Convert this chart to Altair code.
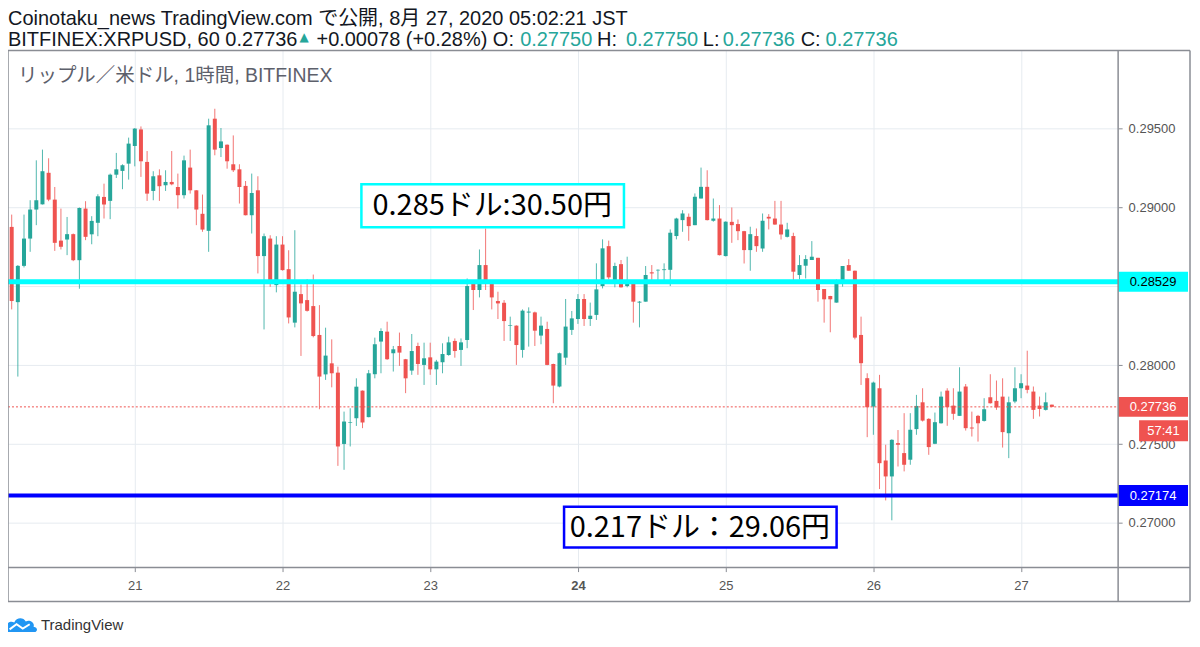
import altair as alt
import pandas as pd

# ---- candle data (BITFINEX:XRPUSD, 1h, from 2020-08-20 04:00 JST) ----
opens = [0.28877,0.28400,0.28630,0.28803,0.28987,0.29020,0.29220,0.29050,0.28790,0.28797,
0.28831,0.28666,0.28993,0.28830,0.28903,0.29067,0.29042,0.29208,0.29232,0.29278,
0.29390,0.29495,0.29289,0.29105,0.29204,0.29141,0.29162,0.29130,0.29078,0.29253,
0.29109,0.28960,0.28852,0.29563,0.29377,0.29398,0.29274,0.29242,0.29137,0.28951,
0.29109,0.28692,0.28803,0.28508,0.28765,0.28609,0.28270,0.28451,0.28413,0.28375,
0.28192,0.27942,0.28012,0.27953,0.27501,0.27634,0.27664,0.27839,0.27671,0.27943,
0.28150,0.28213,0.28076,0.28122,0.28038,0.27966,0.28122,0.28002,0.28050,0.27974,
0.28019,0.28065,0.28154,0.28097,0.28160,0.28515,0.28477,0.28635,0.28515,0.28407,
0.28396,0.28251,0.28251,0.28097,0.28334,0.28335,0.28188,0.28230,0.28008,0.27865,
0.28048,0.28224,0.28293,0.28420,0.28293,0.28319,0.28502,0.28755,0.28519,0.28641,
0.28502,0.28530,0.28397,0.28403,0.28589,0.28601,0.28603,0.28605,0.28819,0.28920,
0.28941,0.28888,0.29057,0.29131,0.28916,0.28930,0.28692,0.28909,0.28895,0.28850,
0.28730,0.28819,0.28740,0.28941,0.28930,0.28892,0.28814,0.28819,0.28572,0.28631,
0.28667,0.28681,0.28483,0.28439,0.28397,0.28536,0.28635,0.28599,0.28192,0.27918,
0.27738,0.27854,0.27396,0.27295,0.27506,0.27443,0.27401,0.27595,0.27765,0.27660,
0.27502,0.27632,0.27839,0.27744,0.27679,0.27865,0.27605,0.27679,0.27647,0.27797,
0.27774,0.27801,0.27569,0.27770,0.27854,0.27871,0.27833,0.27744,0.27717,0.27750]

highs = [0.28955,0.28635,0.28955,0.29046,0.29299,0.29367,0.29312,0.29130,0.28993,0.28940,
0.28835,0.29000,0.29040,0.28945,0.29084,0.29151,0.29215,0.29346,0.29274,0.29443,
0.29504,0.29514,0.29358,0.29230,0.29242,0.29236,0.29358,0.29215,0.29329,0.29367,
0.29110,0.29082,0.29563,0.29626,0.29504,0.29400,0.29457,0.29274,0.29168,0.29215,
0.29198,0.28835,0.28824,0.28818,0.28818,0.28729,0.28856,0.28512,0.28546,0.28575,
0.28381,0.28238,0.28164,0.27991,0.27706,0.27727,0.27917,0.27840,0.27970,0.28175,
0.28234,0.28276,0.28122,0.28207,0.28040,0.28198,0.28143,0.28143,0.28143,0.28034,
0.28139,0.28181,0.28170,0.28170,0.28550,0.28523,0.28734,0.28867,0.28515,0.28466,
0.28413,0.28308,0.28253,0.28354,0.28367,0.28340,0.28308,0.28276,0.28010,0.28080,
0.28420,0.28344,0.28451,0.28451,0.28397,0.28646,0.28798,0.28790,0.28650,0.28667,
0.28688,0.28530,0.28407,0.28629,0.28635,0.28608,0.28646,0.28861,0.28935,0.28983,
0.28962,0.29089,0.29253,0.29236,0.29057,0.29015,0.28912,0.29000,0.28924,0.28852,
0.28878,0.28867,0.28962,0.28958,0.29042,0.29042,0.28903,0.28840,0.28698,0.28698,
0.28787,0.28681,0.28483,0.28440,0.28544,0.28629,0.28673,0.28600,0.28308,0.27949,
0.27896,0.27939,0.27496,0.27531,0.27589,0.27696,0.27696,0.27812,0.27854,0.27664,
0.27700,0.27833,0.27854,0.27854,0.27987,0.27881,0.27706,0.27685,0.27791,0.27943,
0.27903,0.27917,0.27801,0.27987,0.27943,0.28092,0.27865,0.27801,0.27827,0.27750]

lows = [0.28354,0.27928,0.28620,0.28719,0.28888,0.29019,0.29040,0.28725,0.28734,0.28698,
0.28660,0.28485,0.28793,0.28767,0.28818,0.28930,0.28926,0.29187,0.29116,0.29177,
0.29261,0.29194,0.29042,0.29046,0.29042,0.29105,0.29141,0.28993,0.29057,0.29088,
0.28888,0.28846,0.28719,0.29331,0.29320,0.29246,0.29225,0.29025,0.28950,0.28835,
0.28582,0.28227,0.28497,0.28462,0.28600,0.28265,0.28240,0.28059,0.28340,0.28177,
0.27721,0.27907,0.27860,0.27362,0.27337,0.27485,0.27615,0.27601,0.27670,0.27917,
0.27949,0.28034,0.27960,0.27996,0.27823,0.27939,0.27939,0.27875,0.27939,0.27875,
0.27949,0.28060,0.28048,0.27996,0.28108,0.28350,0.28430,0.28477,0.28354,0.28293,
0.28154,0.28154,0.28002,0.28048,0.28118,0.28122,0.28133,0.28000,0.27759,0.27860,
0.28002,0.28192,0.28262,0.28249,0.28249,0.28287,0.28487,0.28544,0.28494,0.28492,
0.28494,0.28270,0.28240,0.28403,0.28530,0.28530,0.28530,0.28502,0.28798,0.28846,
0.28789,0.28888,0.29057,0.28918,0.28910,0.28696,0.28690,0.28776,0.28793,0.28645,
0.28599,0.28719,0.28719,0.28861,0.28890,0.28797,0.28810,0.28540,0.28544,0.28550,
0.28667,0.28403,0.28270,0.28209,0.28397,0.28498,0.28599,0.28164,0.27875,0.27544,
0.27559,0.27215,0.27143,0.27017,0.27358,0.27327,0.27369,0.27559,0.27643,0.27432,
0.27500,0.27630,0.27616,0.27654,0.27679,0.27586,0.27548,0.27516,0.27643,0.27757,
0.27717,0.27478,0.27411,0.27759,0.27791,0.27822,0.27660,0.27675,0.27713,0.27736]

closes = [0.28407,0.28630,0.28803,0.28987,0.29046,0.29230,0.29050,0.28776,0.28751,0.28831,
0.28666,0.28997,0.28814,0.28915,0.29071,0.29019,0.29208,0.29242,0.29268,0.29405,
0.29500,0.29293,0.29088,0.29198,0.29135,0.29162,0.29147,0.29078,0.29299,0.29109,
0.28987,0.28860,0.29521,0.29367,0.29419,0.29293,0.29236,0.29130,0.28951,0.29092,
0.28692,0.28818,0.28523,0.28765,0.28603,0.28303,0.28466,0.28392,0.28345,0.28185,
0.27928,0.28061,0.27949,0.27485,0.27643,0.27638,0.27864,0.27637,0.27949,0.28133,
0.28217,0.28038,0.28101,0.28080,0.27917,0.28090,0.28008,0.28044,0.27974,0.28023,
0.28071,0.28145,0.28090,0.28145,0.28502,0.28477,0.28635,0.28515,0.28430,0.28392,
0.28280,0.28255,0.28128,0.28346,0.28340,0.28219,0.28251,0.28002,0.27871,0.28076,
0.28245,0.28297,0.28420,0.28293,0.28314,0.28481,0.28741,0.28557,0.28629,0.28494,
0.28519,0.28403,0.28403,0.28572,0.28582,0.28605,0.28608,0.28840,0.28930,0.28962,
0.28882,0.29068,0.29131,0.28920,0.28930,0.28698,0.28910,0.28888,0.28850,0.28730,
0.28831,0.28755,0.28916,0.28930,0.28892,0.28829,0.28861,0.28593,0.28635,0.28673,
0.28688,0.28477,0.28418,0.28418,0.28536,0.28629,0.28599,0.28175,0.28013,0.27734,
0.27890,0.27379,0.27295,0.27527,0.27496,0.27369,0.27591,0.27742,0.27649,0.27481,
0.27639,0.27801,0.27734,0.27692,0.27833,0.27601,0.27599,0.27632,0.27721,0.27759,
0.27732,0.27576,0.27765,0.27854,0.27886,0.27844,0.27717,0.27723,0.27765,0.27736]

resistance_level = [0.28529]
support_level = [0.27174]
last_price = [0.27736]
price_ticks = [0.270, 0.275, 0.280, 0.285, 0.290, 0.295]
day_labels = [21, 22, 23, 24, 25, 26, 27]

times = pd.date_range("2020-08-20 04:00", periods=len(opens), freq="h", tz="UTC").strftime("%Y-%m-%dT%H:%M:%SZ")
df = pd.DataFrame({"t": list(times), "open": opens, "high": highs, "low": lows, "close": closes})

W, H = 1112, 518
SANS = "Liberation Sans, Noto Sans CJK JP"
JP = "Noto Sans CJK JP"
UP, DOWN = "#26a69a", "#ef5350"
GRID = "#e6ebf0"
FRAME = "#8a8d94"

xscale = alt.Scale(type="utc", domain=[
    alt.DateTime(year=2020, month=8, date=20, hours=3, minutes=24, utc=True),
    alt.DateTime(year=2020, month=8, date=27, hours=15, minutes=46, utc=True)])
yscale = alt.Scale(domain=[0.267171, 0.299956], nice=False, zero=False)

xaxis = alt.Axis(values=[alt.DateTime(year=2020, month=8, date=d, utc=True) for d in day_labels],
                 labelExpr="utcFormat(datum.value, '%-d')", grid=True, gridColor=GRID,
                 domain=False, ticks=True, tickColor=FRAME, tickSize=4, labelPadding=8,
                 labelFontSize=13, labelColor="#555555", labelFont=SANS, title=None,
                 labelFlush=False, labelOverlap=False,
                 labelFontWeight={"condition": {"test": "utcdate(datum.value) == 24", "value": "bold"}, "value": "normal"})
# the 0.28500 label sits under the cyan price tag, as in the reference
yaxis = alt.Axis(orient="right", values=price_ticks, grid=True, gridColor=GRID,
                 labelExpr="datum.value == 0.285 ? '' : format(datum.value, '.5f')",
                 domain=False, ticks=True, tickColor=FRAME, tickSize=4, labelPadding=6,
                 labelFontSize=13, labelColor="#555555", labelFont=SANS, title=None,
                 labelOverlap=False)

X = alt.X("t:T", scale=xscale, axis=xaxis)

def Y(field):
    return alt.Y(field, type="quantitative", scale=yscale, axis=yaxis)

color_cond = alt.condition("datum.close >= datum.open", alt.value(UP), alt.value(DOWN))
base = alt.Chart(df)
wicks = base.mark_rule(strokeWidth=1, opacity=0.8).encode(
    x=X, y=Y("low"), y2="high:Q", color=color_cond)
bodies = base.mark_rule(strokeWidth=4).encode(
    x=X, y=Y("open"), y2="close:Q", color=color_cond)

def level_line(vals, color, width, dash=None):
    kw = dict(color=color, strokeWidth=width)
    if dash:
        kw["strokeDash"] = dash
    return alt.Chart(pd.DataFrame({"price": vals})).mark_rule(**kw).encode(
        y=Y("price"), x=alt.value(0), x2=alt.value(W))

def axis_box(vals, fill, textcolor, label, x1=W, x2=W + 70, off=0, half=10):
    d = pd.DataFrame({"price": vals})
    rect = alt.Chart(d).mark_rect(color=fill, yOffset=off - half, y2Offset=off + half).encode(
        y=Y("price"), y2="price:Q", x=alt.value(x1), x2=alt.value(x2))
    txt = alt.Chart(d).mark_text(text=label, color=textcolor, fontSize=13, font=SANS,
                                 align="center", baseline="middle", dy=off).encode(
        y=Y("price"), x=alt.value((x1 + x2) / 2))
    return rect + txt

one = pd.DataFrame({"k": [0]})

def text(s, x, y, size, color, font=SANS, align="left"):
    return alt.Chart(one).mark_text(text=s, align=align, baseline="middle", fontSize=size,
                                    color=color, font=font).encode(x=alt.value(x), y=alt.value(y))

def frame_rect(x1, x2, y1, y2, stroke, width, fill="white"):
    return alt.Chart(one).mark_rect(fill=fill, stroke=stroke, strokeWidth=width).encode(
        x=alt.value(x1), x2=alt.value(x2), y=alt.value(y1), y2=alt.value(y2))

def hrule(y, x1, x2, color=FRAME, w=1.5):
    return alt.Chart(one).mark_rule(color=color, strokeWidth=w).encode(
        x=alt.value(x1), x2=alt.value(x2), y=alt.value(y))

def vrule(x, y1, y2, color=FRAME, w=1.5):
    return alt.Chart(one).mark_rule(color=color, strokeWidth=w).encode(
        x=alt.value(x), y=alt.value(y1), y2=alt.value(y2))

cyan_line = level_line(resistance_level, "#00ffff", 5)
blue_line = level_line(support_level, "#0000ff", 4)
last_line = level_line(last_price, DOWN, 1, [2, 2])

note1 = frame_rect(354, 617, 134, 177, "#00ffff", 2.5) + text("0.285ドル:30.50円", 485, 156, 29, "#000000", JP, "center")
note2 = frame_rect(557, 830, 457, 498, "#0000ff", 2.5) + text("0.217ドル：29.06円", 693, 478, 29, "#000000", JP, "center")

boxes = (axis_box(resistance_level, "#00ffff", "#000000", f"{resistance_level[0]:.5f}")
         + axis_box(last_price, DOWN, "#ffffff", f"{last_price[0]:.5f}")
         + axis_box(last_price, DOWN, "#ffffff", "57:41", x1=W + 21, off=24, half=10.5)
         + axis_box(support_level, "#0000ff", "#ffffff", f"{support_level[0]:.5f}", half=10.5))

HB = "#131722"
FS = 20
header = (text("Coinotaku_news TradingView.com で公開, 8月 27, 2020 05:02:21 JST", 0, -32, 20, HB)
          + text(f"BITFINEX:XRPUSD, 60 {closes[-1]:.5f}", 0, -10, FS, HB)
          + text("▲", 292, -13, 12, UP, "DejaVu Sans")
          + text("+0.00078 (+0.28%) O:", 309, -10, FS, HB)
          + text(f"{opens[-1]:.5f}", 513, -10, FS, UP)
          + text("H:", 590, -10, FS, HB)
          + text(f"{highs[-1]:.5f}", 619, -10, FS, UP)
          + text("L:", 696, -10, FS, HB)
          + text(f"{lows[-1]:.5f}", 716, -10, FS, UP)
          + text("C:", 794, -10, FS, HB)
          + text(f"{closes[-1]:.5f}", 819, -10, FS, UP)
          + text("リップル／米ドル, 1時間, BITFINEX", 10, 26, 19.5, "#5d606b"))

frame = (hrule(0, 0, 1184) + hrule(552, 0, 1184) + vrule(0, 0, 552) + vrule(1184, 0, 552)
         + vrule(W, 0, 552) + hrule(H, 0, 1184))

cloud = alt.Chart(one).mark_point(
    shape="M-1,0.42 L-1,0.1 C-1,-0.2 -0.72,-0.32 -0.5,-0.2 C-0.35,-0.55 0.1,-0.55 0.25,-0.25 C0.45,-0.4 0.85,-0.2 0.75,0.08 C1.05,0.12 1.02,0.42 0.8,0.42 Z",
    filled=True, color="#2196f3", opacity=1, size=961).encode(x=alt.value(14), y=alt.value(576))
cloud_line = alt.Chart(one).mark_point(
    shape="M-0.8,0.25 L-0.35,-0.08 L0.05,0.2 L0.5,-0.08",
    filled=False, color="#ffffff", strokeWidth=2, opacity=1, size=961).encode(x=alt.value(14), y=alt.value(576))
logo = cloud + cloud_line + text("TradingView", 33, 576, 15, "#333333")

chart = alt.layer(wicks, bodies, cyan_line, blue_line, last_line, note1, note2, boxes,
                  header, frame, logo).properties(
    width=W, height=H,
    autosize=alt.AutoSizeParams(type="none"),
    padding={"left": 0, "top": 42, "right": 74, "bottom": 71},
    background="white",
).configure_view(stroke=None)

chart.save("out.html", embed_options={"renderer": "svg", "actions": False})
